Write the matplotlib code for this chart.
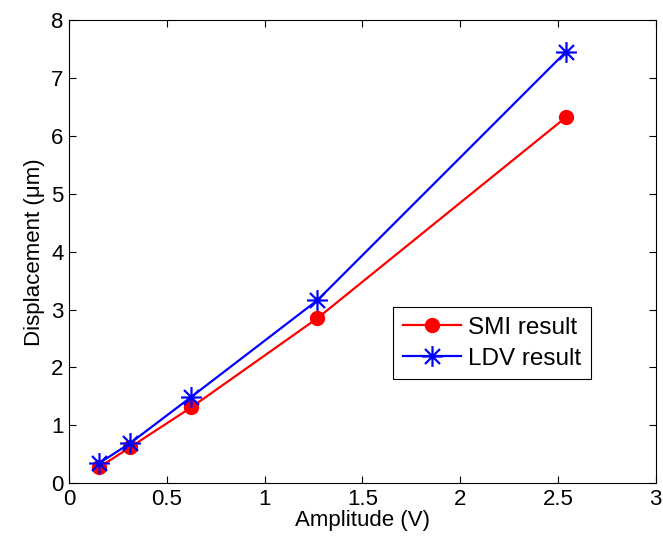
import matplotlib
matplotlib.use("Agg")
import matplotlib.pyplot as plt
from matplotlib.path import Path

# data
amplitude = [0.156, 0.3125, 0.625, 1.27, 2.54]
smi_disp = [0.28, 0.62, 1.31, 2.85, 6.32]
ldv_disp = [0.35, 0.69, 1.49, 3.16, 7.45]
x_ticks = [0, 0.5, 1, 1.5, 2, 2.5, 3]
x_tick_labels = ['0', '0.5', '1', '1.5', '2', '2.5', '3']
y_ticks = [0, 1, 2, 3, 4, 5, 6, 7, 8]

plt.rcParams['font.family'] = ['Liberation Sans', 'DejaVu Sans']
plt.rcParams['font.size'] = 16

# matlab style asterisk: a plus on top of an x
d = 0.72
asterisk = Path(
    [(-1, 0), (1, 0), (0, -1), (0, 1), (-d, -d), (d, d), (-d, d), (d, -d)],
    [Path.MOVETO, Path.LINETO] * 4)

fig = plt.figure(figsize=(6.63, 5.46), dpi=100)
ax = fig.add_axes([0.104, 0.115, 0.885, 0.848])

ax.plot(amplitude, smi_disp, color='red', marker='o', markersize=10,
        linewidth=1.6, label='SMI result')
ax.plot(amplitude, ldv_disp, color='blue', marker=asterisk, markersize=15,
        markeredgewidth=1.6, linewidth=1.6, label='LDV result')

ax.set_xlim(0, 3)
ax.set_ylim(0, 8)
ax.set_xticks(x_ticks)
ax.set_xticklabels(x_tick_labels)
ax.set_yticks(y_ticks)
ax.tick_params(direction='in', top=True, right=True, length=5, pad=4)
ax.set_xlabel('Amplitude (V)', labelpad=0)
ax.set_ylabel('Displacement (μm)', labelpad=4)

leg = ax.legend(loc='upper left', bbox_to_anchor=(0.552, 0.38), fancybox=False,
                edgecolor='black', framealpha=1, fontsize=17.5,
                handlelength=2.4, handletextpad=0.3, borderpad=0.4,
                labelspacing=0.35, borderaxespad=0)
leg.get_frame().set_linewidth(0.8)

fig.savefig('out.png', dpi=100)
